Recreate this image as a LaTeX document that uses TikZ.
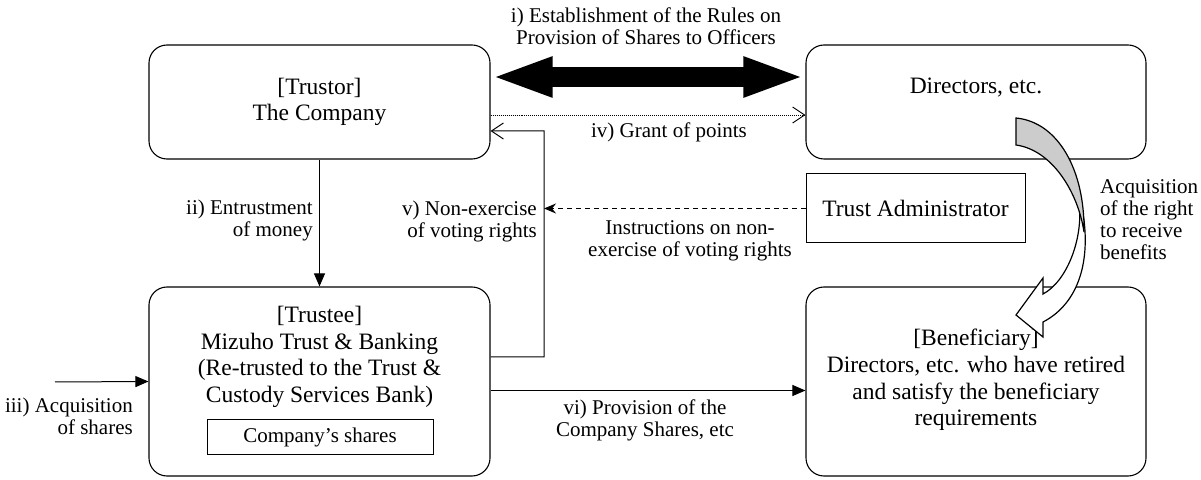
\documentclass[tikz,border=0pt]{standalone}
\usepackage{fontspec}
\setmainfont{LiberationSerif}[Extension=.ttf, UprightFont=*-Regular, BoldFont=*-Bold]
\usepackage{tikz}
\usetikzlibrary{arrows.meta, positioning}
\tikzstyle{party} = [rectangle, rounded corners=18bp, draw=black, line width=1.1bp, inner sep=0pt]
\tikzstyle{plainbox} = [rectangle, draw=black, line width=1bp, inner sep=0pt]
\tikzstyle{boxtext} = [font=\rmfamily\fontsize{23.5bp}{26.7bp}\selectfont, align=center, inner sep=0pt]
\tikzstyle{lbl} = [font=\rmfamily\fontsize{21bp}{22bp}\selectfont, inner sep=0pt]
\tikzstyle{arrow} = [line width=1bp, -{Triangle[length=13bp,width=11bp]}]
\tikzstyle{openarrow} = [line width=1bp, -{Straight Barb[length=12bp,width=16bp]}]

\begin{document}
\begin{tikzpicture}[x=1bp, y=-1bp]
\useasboundingbox (0,0) rectangle (1201,480);
\node (trustor) [party, boxtext, minimum width=341bp, minimum height=114bp] at (319.5,102) {[Trustor]\\The Company};
\node (directors) [party, minimum width=340bp, minimum height=114bp] at (976,102) {};
\node (directorstext) [boxtext] at (976,88) {Directors, etc.};
\node (trustee) [party, minimum width=341bp, minimum height=189bp] at (319.5,381.5) {};
\node (trusteetext) [boxtext] at (319.5,357) {[Trustee]\\Mizuho Trust \& Banking\\(Re-trusted to the Trust \&\\Custody Services Bank)};
\node (shares) [plainbox, lbl, minimum width=226bp, minimum height=34bp] at (320,437) {Company’s shares};
\node (beneficiary) [party, minimum width=340bp, minimum height=189bp] at (976,381.5) {};
\node (beneficiarytext) [boxtext] at (976,380) {[Beneficiary]\\Directors, etc. who have retired\\and satisfy the beneficiary\\requirements};
\node (admin) [plainbox, boxtext, minimum width=219bp, minimum height=69bp] at (915.5,208.5) {Trust Administrator};
\coordinate (acqstart) at (55,382);
\coordinate (vturn) at (544,131);
% labels
\node (rules) [lbl, align=center] at (646,26) {i) Establishment of the Rules on\\Provision of Shares to Officers};
\node (points) [lbl] at (669,132) {iv) Grant of points};
\node (entrust) [lbl, align=right, anchor=east] at (313,220) {ii) Entrustment\\of money};
\node (nonex) [lbl, align=right, anchor=east] at (537,221) {v) Non-exercise\\of voting rights};
\node (instr) [lbl, align=center] at (690,241) {Instructions on non-\\exercise of voting rights};
\node (rightacq) [lbl, align=left, anchor=west] at (1100,220) {Acquisition\\of the right\\to receive\\benefits};
\node (shareacq) [lbl, align=right, anchor=east] at (133,416) {iii) Acquisition\\of shares};
\node (provision) [lbl, align=center] at (645,420) {vi) Provision of the\\Company Shares, etc};
% connectors
\draw [line width=20bp, {Triangle[length=62bp,width=36bp]}-{Triangle[length=62bp,width=36bp]}] ([yshift=25bp]trustor.east) -- ([yshift=25bp]directors.west);
\draw [openarrow, densely dotted, line width=0.9bp] ([yshift=-13bp]trustor.east) -- ([yshift=-13bp]directors.west);
\draw [arrow] (trustor) -- (trustee);
\draw [openarrow] ([yshift=24.5bp]trustee.east) -| (vturn) -- ([yshift=-29bp]trustor.east);
\draw [line width=1bp, dash pattern=on 5bp off 4bp, -{Stealth[length=12bp,width=10bp]}] (admin.west) -- (vturn |- admin.west);
\draw [arrow] (acqstart) -- (trustee.west);
\draw [arrow] ([yshift=-9bp]trustee.east) -- ([yshift=-9bp]beneficiary.west);
% curved block arrow
\draw [line width=1.2bp, fill=white, line join=miter] (1079,200) .. controls (1084,240) and (1066,282) .. (1043,294) -- (1043,278) -- (1016,315) -- (1043,337) -- (1043,322) .. controls (1074,306) and (1090,270) .. (1084,220) -- cycle;
\draw [line width=1.2bp, fill=black!20, line join=miter] (1016,118) .. controls (1058,122) and (1085,170) .. (1084,232) .. controls (1078,192) and (1052,150) .. (1016,145) -- cycle;
\end{tikzpicture}
\end{document}
